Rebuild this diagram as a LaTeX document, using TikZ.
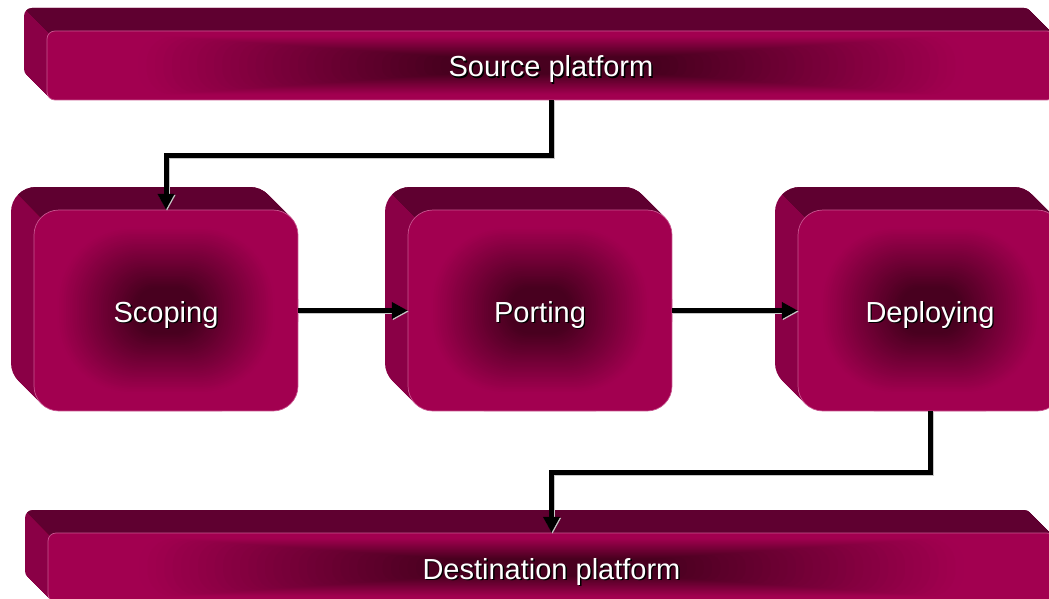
\documentclass[tikz,border=0pt]{standalone}
\usepackage{fontspec}
\setmainfont{Liberation Sans}
\usetikzlibrary{arrows.meta}

\definecolor{fmag}{HTML}{A20050}
\definecolor{fdark}{HTML}{48001F}
\definecolor{topcol}{HTML}{5F0030}
\definecolor{sidecol}{HTML}{8A0046}
\definecolor{fborder}{HTML}{C8558F}

% 3D slab: front face (#1,#2)-(#3,#4), corner radius #5, extruded up-left by 23
\newcommand\slabshape[5]{%
  % extrusion (left side colour)
  \foreach \k in {23,22,...,1}{%
    \fill[sidecol,rounded corners=#5pt] (#1-\k,#2-\k) rectangle (#3-\k,#4-\k);}
  % upper face of the extrusion
  \begin{scope}
    \pgfmathsetmacro\px{#1+#5*0.2929}
    \pgfmathsetmacro\py{#2+#5*0.2929}
    \clip (\px-40,\py-40) -- (\px+6,\py+6) -- (#3+40,\py+6) -- (#3+40,\py-40) -- cycle;
    \foreach \k in {23,22,...,1}{%
      \fill[topcol,rounded corners=#5pt] (#1-\k,#2-\k) rectangle (#3-\k,#4-\k);}
  \end{scope}
  % front face with a soft gradient, dark in the centre
  \begin{scope}
    \clip[rounded corners=#5pt] (#1,#2) rectangle (#3,#4);
    \pgfmathsetmacro\cx{(#1+#3)/2}
    \pgfmathsetmacro\cy{(#2+#4)/2}
    \pgfmathsetmacro\hw{(#3-#1)/2}
    \pgfmathsetmacro\hh{(#4-#2)/2}
    \fill[fmag] (#1,#2) rectangle (#3,#4);
    \foreach \i in {0,...,60}{%
      \pgfmathsetmacro\t{1-\i/60}
      \pgfmathsetmacro\p{max(0,min(100,(\t-0.22)/0.6*100))}
      \pgfmathsetmacro\rr{max(0.5,\t*min(\hw,\hh)*0.9)}
      \fill[fmag!\p!fdark,rounded corners=\rr pt]
        (\cx-\t*\hw-1,\cy-\t*\hh-1) rectangle (\cx+\t*\hw+1,\cy+\t*\hh+1);}
  \end{scope}
  \draw[fborder,line width=0.7pt,rounded corners=#5pt] (#1,#2) rectangle (#3,#4);
}

% white label with a small dark drop shadow
\newcommand\shadowtext[1]{%
  \makebox[0pt][l]{\raisebox{-1.4pt}{\hspace{1.4pt}\color{black}#1}}\color{white}#1}

\tikzset{
  label/.style={inner sep=0pt, text height=29pt, text depth=6pt,
    font=\fontsize{29}{34}\selectfont},
  bar/.style={label, minimum width=1008pt, minimum height=69pt},
  stage/.style={label, minimum width=264pt, minimum height=201pt},
  conn/.style={draw=black, line width=5pt, line join=miter,
    -{Triangle[length=16pt,width=16pt]}},
  connshadow/.style={conn, draw=black!22,
    transform canvas={shift={(1,1)}}},
}

\begin{document}
\begin{tikzpicture}[x=1pt,y=-1pt]
  \useasboundingbox (0,0) rectangle (1049,599);
  \clip (0,0) rectangle (1049,599);

  % platforms and stages
  \slabshape{47}{31}{1055}{100}{8}
  \slabshape{48}{533}{1055}{602}{8}
  \slabshape{34}{210}{298}{411}{25}
  \slabshape{408}{210}{672}{411}{25}
  \slabshape{798}{210}{1062}{411}{25}

  \node[bar]   (source)      at (551,65.5)  {\shadowtext{Source platform}};
  \node[bar]   (destination) at (551.5,567.5) {\shadowtext{Destination platform}};
  \node[stage] (scoping)     at (166,310.5) {\shadowtext{Scoping}};
  \node[stage] (porting)     at (540,310.5) {\shadowtext{Porting}};
  \node[stage] (deploying)   at (930,310.5) {\shadowtext{Deploying}};

  \path (source.south) ++(0,55) coordinate (bendA);
  \path (deploying.south) ++(0,61) coordinate (bendB);

  % connectors
  \foreach \st in {connshadow,conn}{
    \draw[\st] (source.south) -- (bendA) -| (scoping.north);
    \draw[\st] (scoping.east) -- (porting.west);
    \draw[\st] (porting.east) -- (deploying.west);
    \draw[\st] (deploying.south) -- (bendB) -| (destination.north);
  }
\end{tikzpicture}
\end{document}
